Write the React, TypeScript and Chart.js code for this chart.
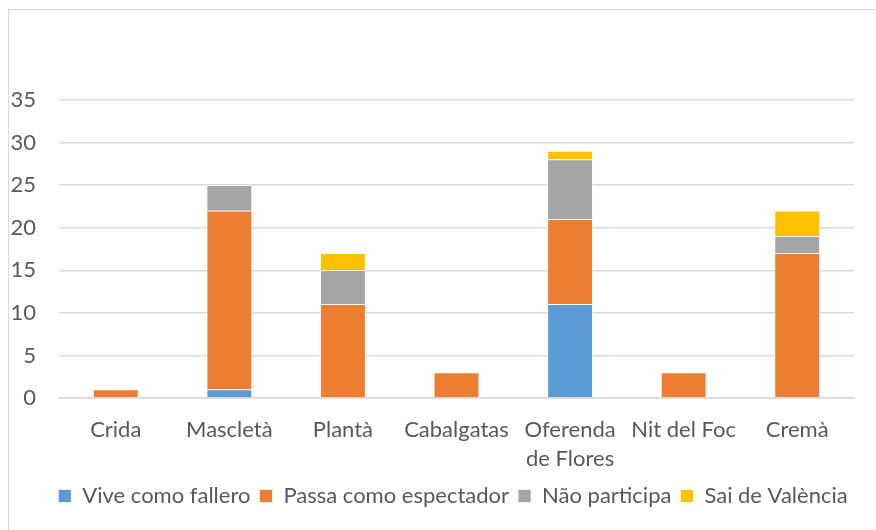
import React, { useEffect, useRef } from "react";
import { Chart, registerables } from "chart.js";

Chart.register(...registerables);

const categories: (string | string[])[] = [
  "Crida",
  "Mascletà",
  "Plantà",
  "Cabalgatas",
  ["Oferenda", "de Flores"],
  "Nit del Foc",
  "Cremà",
];
const viveComoFallero = [0, 1, 0, 0, 11, 0, 0];
const passaComoEspectador = [1, 21, 11, 3, 10, 3, 17];
const naoParticipa = [0, 3, 4, 0, 7, 0, 2];
const saiDeValencia = [0, 0, 2, 0, 1, 0, 3];
const yTicks = [0, 5, 10, 15, 20, 25, 30, 35];

const FONT = "Lato, 'Open Sans', sans-serif";
const TEXT = "#595959";
const GRID = "#d9d9d9";

const legendShift = {
  id: "legendShift",
  afterLayout(chart: any) {
    const lg = chart.legend;
    if (lg) {
      lg.left += 26;
      lg.right += 26;
    }
  },
};

export default function App() {
  const ref = useRef<HTMLCanvasElement | null>(null);
  useEffect(() => {
    if (!ref.current) return;
    const mk = (label: string, data: number[], color: string) => ({
      label,
      data,
      backgroundColor: color,
      borderColor: "#ffffff",
      borderWidth: 0.75,
      barPercentage: 0.4,
      categoryPercentage: 1.0,
    });
    const chart = new Chart(ref.current, {
      type: "bar",
      data: {
        labels: categories,
        datasets: [
          mk("Vive como fallero", viveComoFallero, "#5B9BD5"),
          mk("Passa como espectador", passaComoEspectador, "#ED7D31"),
          mk("Não participa", naoParticipa, "#A5A5A5"),
          mk("Sai de València", saiDeValencia, "#FFC000"),
        ],
      },
      plugins: [legendShift],
      options: {
        animation: false,
        responsive: false,
        maintainAspectRatio: false,
        layout: { padding: { top: 100, right: 22, left: 0, bottom: 13 } },
        plugins: {
          tooltip: { enabled: false },
          legend: {
            position: "bottom",
            labels: {
              font: { family: FONT, size: 22 },
              color: TEXT,
              boxWidth: 13,
              boxHeight: 13,
              padding: 9,
            },
          },
        },
        scales: {
          x: {
            stacked: true,
            grid: { display: false, drawTicks: false },
            border: { display: true, color: GRID, width: 1.5 },
            ticks: {
              font: { family: FONT, size: 22, lineHeight: 1.32 },
              color: TEXT,
              padding: 17,
              maxRotation: 0,
              autoSkip: false,
            },
            afterFit: (s: any) => {
              s.height = 78;
            },
          },
          y: {
            stacked: true,
            min: 0,
            max: 35,
            afterBuildTicks: (s: any) => {
              s.ticks = yTicks.map((v) => ({ value: v }));
            },
            grid: { color: GRID, lineWidth: 1.5, drawTicks: false },
            border: { display: false },
            ticks: {
              font: { family: FONT, size: 22 },
              color: TEXT,
              padding: 23,
            },
            afterFit: (s: any) => {
              s.width = 59;
            },
          },
        },
      },
    } as any);
    return () => chart.destroy();
  }, []);
  return (
    <div
      style={{
        position: "fixed",
        left: 0,
        top: 0,
        width: 876,
        height: 530,
        background: "#ffffff",
        overflow: "hidden",
      }}
    >
      <div
        style={{
          position: "absolute",
          left: 8,
          top: 9,
          width: 900,
          height: 600,
          border: "1.5px solid #d9d9d9",
          boxSizing: "border-box",
        }}
      />
      <canvas
        ref={ref}
        width={876}
        height={530}
        style={{ position: "absolute", left: 0, top: 0, width: 876, height: 530 }}
      />
    </div>
  );
}
